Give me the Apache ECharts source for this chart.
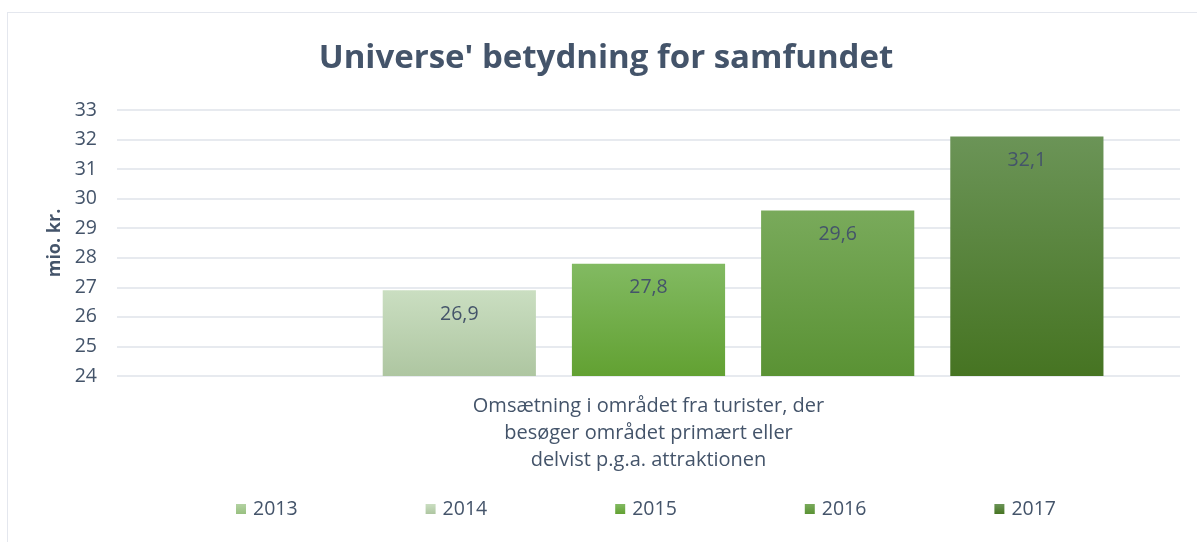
<!DOCTYPE html>
<html>
<head>
<meta charset="utf-8">
<script src="https://cdn.jsdelivr.net/npm/echarts@6/dist/echarts.min.js"></script>
<style>
  html, body { margin: 0; padding: 0; background: #fff; overflow: hidden; }
  #frame { position: absolute; left: 7px; top: 12px; width: 1300px; height: 700px; border: 1px solid #e4e7ee; }
  #main { position: absolute; left: 0; top: 0; width: 1197px; height: 542px; }
</style>
</head>
<body>
<div id="frame"></div>
<div id="main"></div>
<script>
// data
const categories = ["Omsætning i området fra turister, der\nbesøger området primært eller\ndelvist p.g.a. attraktionen"];
const years = ["2013", "2014", "2015", "2016", "2017"];
const values = [null, 26.9, 27.8, 29.6, 32.1];
// top/bottom gradient colours per year
const topColors = ["#b3d2a2", "#cadec1", "#82ba62", "#79aa5b", "#6b9457"];
const bottomColors = ["#98c080", "#aec6a1", "#62a132", "#5a9234", "#467422"];

const textColor = "#44546a";
const font = "'Open Sans', 'DejaVu Sans', sans-serif";

let myChart = echarts.init(document.getElementById("main"));

let series = years.map((y, i) => ({
  name: y,
  type: "bar",
  data: [values[i]],
  barGap: "23.5%",
  barCategoryGap: "14.4%",
  itemStyle: {
    color: new echarts.graphic.LinearGradient(0, 0, 0, 1, [
      { offset: 0, color: topColors[i] },
      { offset: 1, color: bottomColors[i] }
    ])
  },
  label: {
    show: true,
    position: "insideTop",
    distance: 14,
    color: textColor,
    fontFamily: font,
    fontSize: 19.5,
    formatter: p => p.value == null ? "" : String(p.value).replace(".", ",")
  }
}));

let option = {
  animation: false,
  title: {
    text: "Universe' betydning for samfundet",
    left: 601,
    textAlign: "center",
    top: 37,
    textStyle: { color: textColor, fontFamily: font, fontSize: 33, fontWeight: "bold" }
  },
  legend: {
    left: 231,
    top: 494,
    itemWidth: 10,
    itemHeight: 10,
    itemGap: 128,
    icon: "rect",
    textStyle: { color: textColor, fontFamily: font, fontSize: 19.5, padding: [0, 0, 0, 2] },
    data: years
  },
  grid: { left: 117, right: 17, top: 110, bottom: 166 },
  xAxis: {
    type: "category",
    data: categories,
    axisLine: { show: false },
    axisTick: { show: false },
    axisLabel: { color: textColor, fontFamily: font, fontSize: 20, lineHeight: 27, margin: 17 }
  },
  yAxis: {
    type: "value",
    min: 24,
    max: 33,
    interval: 1,
    name: "mio. kr.",
    nameLocation: "middle",
    nameGap: 44,
    nameTextStyle: { color: textColor, fontFamily: font, fontSize: 18, fontWeight: "bold" },
    axisLabel: { color: textColor, fontFamily: font, fontSize: 19.5, margin: 20 },
    splitLine: { lineStyle: { color: "#dfe3ea", width: 1.5 } }
  },
  series: series
};

myChart.setOption(option);
</script>
</body>
</html>
